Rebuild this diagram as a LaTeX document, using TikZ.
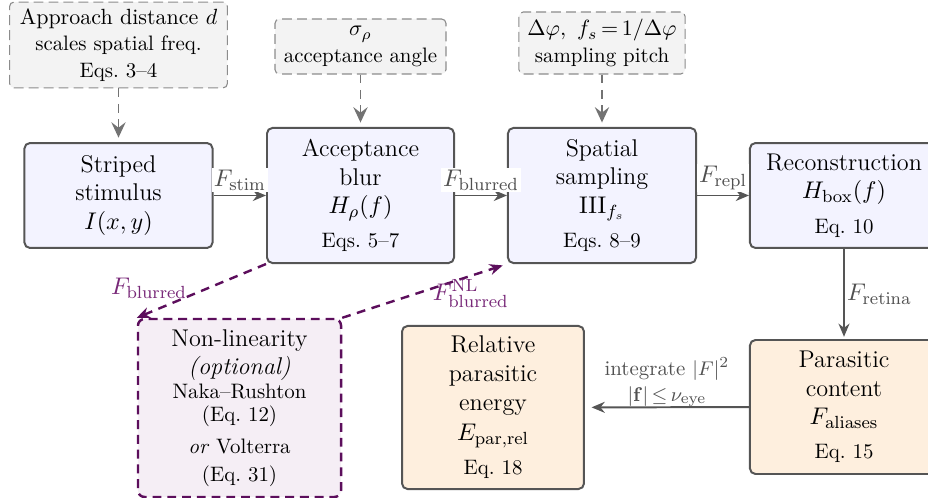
\documentclass[tikz,border=0pt]{standalone}
\usetikzlibrary{arrows.meta}

\definecolor{boxline}{RGB}{85,85,85}
\definecolor{stageblue}{RGB}{243,243,255}
\definecolor{outorange}{RGB}{254,239,222}
\definecolor{paramfill}{RGB}{243,243,243}
\definecolor{paramline}{RGB}{140,140,140}
\definecolor{feedgray}{RGB}{115,115,115}
\definecolor{labelgray}{RGB}{80,80,80}
\definecolor{nlpurple}{RGB}{92,14,92}
\definecolor{nltext}{RGB}{120,40,120}
\definecolor{nlfill}{RGB}{245,238,245}

\newcommand{\smalltxt}{\fontsize{9.5}{11.5}\selectfont}

\tikzset{every picture/.style={line width=0.9pt}}
\tikzset{
  stage/.style={draw=boxline, fill=stageblue, rounded corners=2.5pt, align=center,
    inner sep=3pt, font=\fontsize{11}{13}\selectfont},
  outcome/.style={stage, fill=outorange},
  param/.style={draw=paramline, fill=paramfill, line width=0.5pt,
    dash pattern=on 4.5pt off 2.3pt, rounded corners=2pt, align=center,
    inner sep=3pt, font=\fontsize{10}{12}\selectfont},
  nlbox/.style={draw=nlpurple, fill=nlfill, line width=1.1pt,
    dash pattern=on 4pt off 2.7pt, rounded corners=3pt, align=center,
    inner sep=3pt, font=\fontsize{11}{11.2}\selectfont},
  flow/.style={draw=boxline, -{Stealth[length=6pt,width=5pt]}},
  feed/.style={draw=feedgray, line width=0.7pt, dash pattern=on 4pt off 3pt,
    shorten >=2pt, -{Stealth[length=7pt,width=6.5pt,inset=2.5pt]}},
  nlflow/.style={draw=nlpurple, line width=1.1pt, dash pattern=on 4pt off 3pt,
    -{Stealth[length=6pt,width=5pt]}},
  flowlabel/.style={fill=white, inner sep=1pt, text=labelgray,
    font=\fontsize{11}{13}\selectfont},
  nllabel/.style={inner sep=1pt, text=nltext, font=\fontsize{11}{13}\selectfont},
}

\begin{document}
\begin{tikzpicture}[x=0.4545pt,y=0.4545pt,yscale=-1,xscale=1]
\useasboundingbox (0,0) rectangle (928,498);

% Parameter boxes
\node[param, minimum width=99pt, minimum height=39pt] (dist) at (118.5,45)
  {Approach distance $d$\\ {\smalltxt scales spatial freq.}\\ {\smalltxt Eqs.~3--4}};
\node[param, minimum width=77.7pt, minimum height=25pt] (sigma) at (360.5,46.5)
  {$\sigma_\rho$\\ {\smalltxt acceptance angle}};
\node[param, minimum width=75.5pt, minimum height=28.2pt] (pitch) at (602,43)
  {$\Delta\varphi,\ f_s\,{=}\,1/\Delta\varphi$\\ {\smalltxt sampling pitch}};

% Stage boxes
\node[stage, minimum width=85.5pt, minimum height=47.7pt] (stim) at (118.5,195.5)
  {Striped\\ stimulus\\ $I(x,y)$};
\node[stage, minimum width=85pt, minimum height=61.4pt] (blur) at (360.5,195.5)
  {Acceptance\\ blur\\ $H_\rho(f)$\\[2.5pt] {\smalltxt Eqs.~5--7}};
\node[stage, minimum width=85.5pt, minimum height=61.4pt] (samp) at (602,195.5)
  {Spatial\\ sampling\\ $\mathrm{III}_{f_s}$\\[2.5pt] {\smalltxt Eqs.~8--9}};
\node[stage, minimum width=85.5pt, minimum height=47.7pt] (recon) at (844,195.5)
  {Reconstruction\\ $H_{\mathrm{box}}(f)$\\[2.5pt] {\smalltxt Eq.~10}};

% Outcome boxes
\node[outcome, minimum width=85.5pt, minimum height=60.9pt] (alias) at (844,407)
  {Parasitic\\ content\\ $F_{\mathrm{aliases}}$\\[2.5pt] {\smalltxt Eq.~15}};
\node[outcome, minimum width=82.7pt, minimum height=74.1pt] (energy) at (493,407.5)
  {Relative\\ parasitic\\ energy\\[1pt] $E_{\mathrm{par,rel}}$\\[2.5pt] {\smalltxt Eq.~18}};

% Optional non-linearity
\node[nlbox, minimum width=92.3pt, minimum height=80.9pt] (nonlin) at (239.5,408)
  {Non-linearity\\[1.5pt] \textit{(optional)}\\ {\smalltxt Naka--Rushton}\\[-1pt] {\smalltxt (Eq.~12)}\\[3.3pt]
   {\smalltxt\textit{or} Volterra}\\[1.5pt] {\smalltxt (Eq.~31)}};

% Parameter arrows
\draw[feed] (dist) -- (stim);
\draw[feed] (sigma) -- (blur);
\draw[feed] (pitch) -- (samp);

% Main chain
\draw[flow] (stim) -- node[flowlabel, above=1pt] {$F_{\mathrm{stim}}$} (blur);
\draw[flow] (blur) -- node[flowlabel, above=1pt] {$F_{\mathrm{blurred}}$} (samp);
\draw[flow] (samp) -- node[flowlabel, above=1pt] {$F_{\mathrm{repl}}$} (recon);
\draw[flow, shorten >=1pt] (recon) -- node[flowlabel, fill=none, right] {$F_{\mathrm{retina}}$} (alias);
\draw[flow, shorten >=3pt] (alias) -- node[flowlabel, fill=none, above=-1pt, align=center, font=\smalltxt]
  {integrate $|F|^2$\\ $|\mathbf{f}|\,{\le}\,\nu_{\mathrm{eye}}$} (energy);

% Detour through the non-linearity
\draw[nlflow] (blur.south west) -- node[nllabel, pos=0.88, above=4.5pt, xshift=-1.5pt] {$F_{\mathrm{blurred}}$} (nonlin.north west);
\draw[nlflow, shorten >=2pt] (nonlin.north east) -- node[nllabel, pos=0.78, below=0pt] {$F^{\mathrm{NL}}_{\mathrm{blurred}}$} (samp.south west);

\end{tikzpicture}
\end{document}
